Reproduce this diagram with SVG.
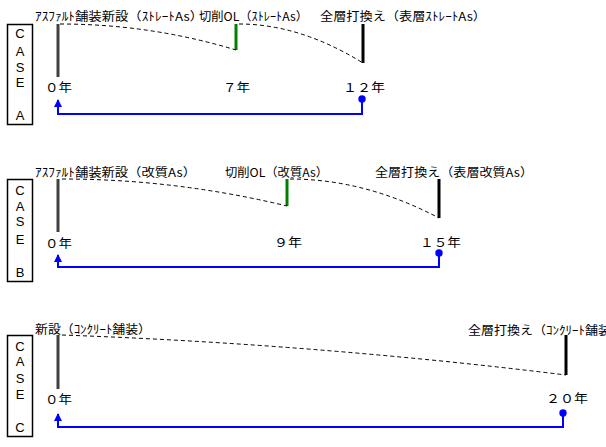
<svg xmlns="http://www.w3.org/2000/svg" width="606" height="447" viewBox="0 0 606 447">
<style>
.box{fill:#fff;stroke:#000;stroke-width:1.5}
.lt{font-family:"Liberation Sans",Arial,sans-serif;font-size:13px;fill:#000;text-anchor:middle}
.jp{font-family:"Noto Sans CJK JP","Noto Sans",sans-serif;font-size:12px;fill:#000}
.start{stroke:#404040;stroke-width:3}
.mid{stroke:#008000;stroke-width:3}
.end{stroke:#000;stroke-width:3}
.dash{fill:none;stroke:#000;stroke-width:1;stroke-dasharray:4 3}
.ret{fill:none;stroke:#0000ff;stroke-width:2;marker-end:url(#ah)}
.dot{fill:#0000ff}
</style>
<defs>
<marker id="ah" markerUnits="userSpaceOnUse" markerWidth="8" markerHeight="8" refX="7" refY="4" orient="auto">
<path d="M0,0 L8,4 L0,8 z" fill="#0000ff"/>
</marker>
</defs>
<rect width="606" height="447" fill="#fff"/>

<g id="caseA">
<rect class="box" x="7.5" y="24.5" width="25" height="100"/>
<text class="lt" x="20" y="38">C</text>
<text class="lt" x="20" y="56">A</text>
<text class="lt" x="20" y="72">S</text>
<text class="lt" x="20" y="87">E</text>
<text class="lt" x="20" y="120">A</text>
</g>
<g id="A-start">
<line class="start" x1="58" y1="24" x2="58" y2="77"/>
<text class="jp" x="35" y="21" textLength="168" lengthAdjust="spacingAndGlyphs">ｱｽﾌｧﾙﾄ舗装新設（ｽﾄﾚｰﾄAs）</text>
<text class="jp" x="45" y="92" textLength="27" lengthAdjust="spacingAndGlyphs">０年</text>
</g>
<g id="A-mid">
<line class="mid" x1="236" y1="24" x2="236" y2="50"/>
<text class="jp" x="199" y="21" textLength="109" lengthAdjust="spacingAndGlyphs">切削OL（ｽﾄﾚｰﾄAs）</text>
<text class="jp" x="223" y="92" textLength="27" lengthAdjust="spacingAndGlyphs">７年</text>
</g>
<g id="A-end">
<line class="end" x1="363" y1="24" x2="363" y2="63"/>
<text class="jp" x="320" y="21" textLength="166" lengthAdjust="spacingAndGlyphs">全層打換え（表層ｽﾄﾚｰﾄAs）</text>
<text class="jp" x="343" y="92" textLength="42" lengthAdjust="spacingAndGlyphs">１２年</text>
<circle class="dot" cx="362" cy="99" r="3.7"/>
</g>

<g id="caseB">
<rect class="box" x="7.5" y="179.5" width="25" height="102"/>
<text class="lt" x="20" y="195">C</text>
<text class="lt" x="20" y="211">A</text>
<text class="lt" x="20" y="226">S</text>
<text class="lt" x="20" y="244">E</text>
<text class="lt" x="20" y="277">B</text>
</g>
<g id="B-start">
<line class="start" x1="58" y1="179" x2="58" y2="232"/>
<text class="jp" x="35" y="177" textLength="161" lengthAdjust="spacingAndGlyphs">ｱｽﾌｧﾙﾄ舗装新設（改質As）</text>
<text class="jp" x="45" y="248" textLength="27" lengthAdjust="spacingAndGlyphs">０年</text>
</g>
<g id="B-mid">
<line class="mid" x1="287" y1="179" x2="287" y2="206"/>
<text class="jp" x="225" y="177" textLength="103" lengthAdjust="spacingAndGlyphs">切削OL（改質As）</text>
<text class="jp" x="274" y="247" textLength="28" lengthAdjust="spacingAndGlyphs">９年</text>
</g>
<g id="B-end">
<line class="end" x1="439" y1="179" x2="439" y2="218"/>
<text class="jp" x="375" y="177" textLength="158" lengthAdjust="spacingAndGlyphs">全層打換え（表層改質As）</text>
<text class="jp" x="420" y="247" textLength="41" lengthAdjust="spacingAndGlyphs">１５年</text>
<circle class="dot" cx="439" cy="253" r="3.7"/>
</g>

<g id="caseC">
<rect class="box" x="7.5" y="335.5" width="25" height="101"/>
<text class="lt" x="20" y="351">C</text>
<text class="lt" x="20" y="366">A</text>
<text class="lt" x="20" y="383">S</text>
<text class="lt" x="20" y="399">E</text>
<text class="lt" x="20" y="432">C</text>
</g>
<g id="C-start">
<line class="start" x1="58" y1="335" x2="58" y2="389"/>
<text class="jp" x="35" y="334" textLength="116" lengthAdjust="spacingAndGlyphs">新設（ｺﾝｸﾘｰﾄ舗装）</text>
<text class="jp" x="45" y="404" textLength="27" lengthAdjust="spacingAndGlyphs">０年</text>
</g>
<g id="C-end">
<line class="end" x1="566" y1="335" x2="566" y2="375"/>
<text class="jp" x="468" y="335" textLength="156" lengthAdjust="spacingAndGlyphs">全層打換え（ｺﾝｸﾘｰﾄ舗装）</text>
<text class="jp" x="546" y="403" textLength="42" lengthAdjust="spacingAndGlyphs">２０年</text>
<circle class="dot" cx="563" cy="413" r="3.7"/>
</g>

<g id="connectors">
<path class="dash" d="M60,24 Q150,24 236,50"/>
<path class="dash" d="M239,24 Q300,24 363,63"/>
<path class="dash" d="M62,179 Q175,179 287,206"/>
<path class="dash" d="M290,179 Q365,179 439,218"/>
<path class="dash" d="M62,335 Q314,344 566,375"/>
<path class="ret" d="M362,99 V114 H58 V100"/>
<path class="ret" d="M439,253 V267 H58 V255"/>
<path class="ret" d="M563,413 V427 H58 V414"/>
</g>
</svg>
